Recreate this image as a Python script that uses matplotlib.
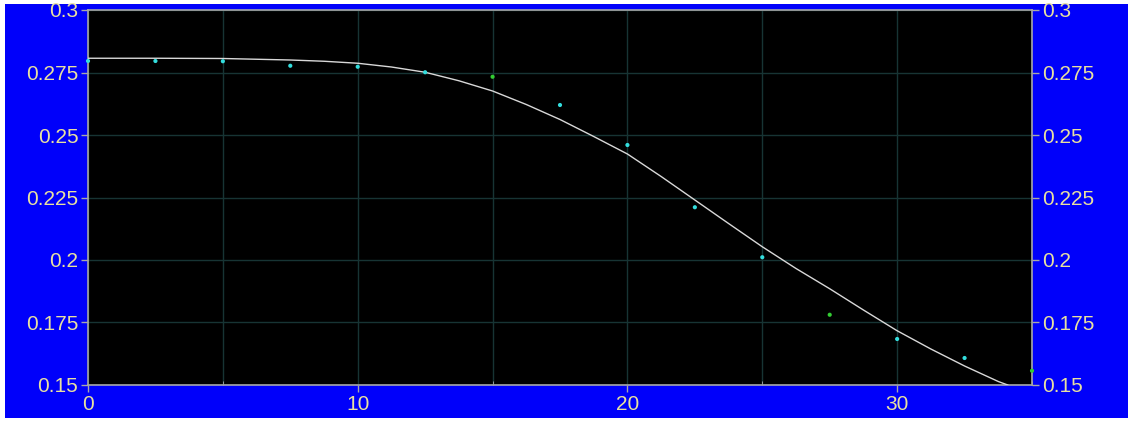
import numpy as np
import matplotlib.pyplot as plt
from matplotlib.patches import Rectangle
from matplotlib.ticker import MultipleLocator, FuncFormatter

plt.rcParams['font.family'] = 'Liberation Sans'

# measured points
x_pts = [0, 2.5, 5, 7.5, 10, 12.5, 15, 17.5, 20, 22.5, 25, 27.5, 30, 32.5, 35]
y_pts = [0.2796, 0.2796, 0.2795, 0.2777, 0.2773, 0.2751, 0.2733, 0.2620,
         0.2460, 0.2211, 0.2011, 0.1781, 0.1684, 0.1608, 0.1557]
# points drawn in green instead of cyan
green_x = [15, 27.5, 35]

# fitted curve
x_fit = [0, 2.5, 5, 7.5, 8.75, 10, 11.25, 12.5, 13.75, 15, 16.25, 17.5, 18.75,
         20, 21.25, 22.5, 23.75, 25, 26.25, 27.5, 28.75, 30, 31.25, 32.5, 33.75, 34.1]
y_fit = [0.2807, 0.2807, 0.2806, 0.2800, 0.2795, 0.2787, 0.2772, 0.2751, 0.2717,
         0.2676, 0.2622, 0.2562, 0.2494, 0.2424, 0.2334, 0.2240, 0.2146, 0.2053,
         0.1966, 0.1885, 0.1800, 0.1717, 0.1644, 0.1576, 0.1514, 0.1500]

W, H = 1128, 421
fig = plt.figure(figsize=(W / 100, H / 100), dpi=100, facecolor='white')
# blue panel behind the axes
fig.patches.append(Rectangle((5 / W, 3 / H), 1 - 5 / W, (418 - 4) / H,
                             transform=fig.transFigure, facecolor='#0000fa',
                             edgecolor='none', zorder=-10))

ax = fig.add_axes([88 / W, 1 - 385 / H, (1032 - 88) / W, (385 - 10) / H])
ax.set_zorder(1)
ax.set_facecolor('black')

ax.plot(x_fit, y_fit, color='#d8d8d8', lw=1.0, zorder=3)

cols = ['#33cc33' if x in green_x else '#33dddd' for x in x_pts]
ax.scatter(x_pts, y_pts, s=9, c=cols, edgecolors='none', zorder=4, clip_on=False)

ax.set_xlim(0, 35)
ax.set_ylim(0.15, 0.3)

txt = '#e8e0a0'
ax.xaxis.set_major_locator(MultipleLocator(10))
ax.xaxis.set_minor_locator(MultipleLocator(5))
ax.yaxis.set_major_locator(MultipleLocator(0.025))
ax.yaxis.set_major_formatter(FuncFormatter(lambda v, p: '%g' % round(v, 3)))

ax.grid(which='both', color='#173434', lw=1.0)
ax.tick_params(which='major', colors='#a8a8a8', labelcolor=txt, length=5, width=1,
               labelsize=15, pad=2)
ax.tick_params(axis='y', right=True, labelright=True)
ax.tick_params(axis='x', which='minor', direction='in', length=3, colors='#a8a8a8')

for s in ax.spines.values():
    s.set_color('#a8a8a8')
    s.set_linewidth(1.2)

fig.savefig('out.png', dpi=100, facecolor=fig.get_facecolor())
